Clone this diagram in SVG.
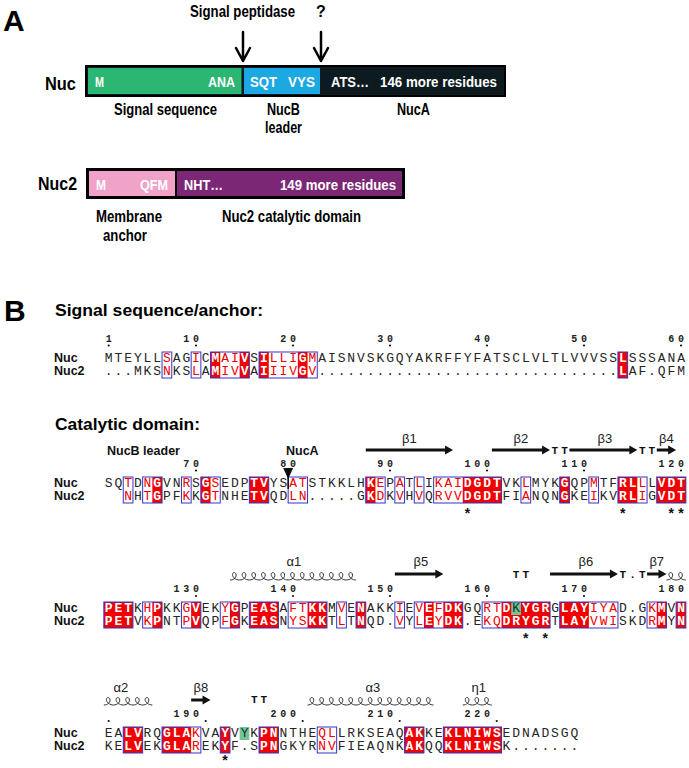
<svg xmlns="http://www.w3.org/2000/svg" width="689" height="768" viewBox="0 0 689 768">
<style>
.big{font-family:"Liberation Sans",Arial,sans-serif;font-weight:bold;font-size:30px;fill:#000}
.cond{font-family:"Liberation Sans Narrow","Liberation Sans",Arial,sans-serif;font-weight:bold;fill:#000}
.in{font-family:"Liberation Sans Narrow","Liberation Sans",Arial,sans-serif;font-weight:bold;font-size:14px;fill:#fff}
.head{font-family:"Liberation Sans",Arial,sans-serif;font-weight:bold;font-size:17px;fill:#000}
.lab{font-family:"Liberation Sans",Arial,sans-serif;font-weight:bold;font-size:12.5px;fill:#111}
.seq{font-family:"Liberation Mono","Courier New",monospace;font-size:13px;letter-spacing:1.9px;fill:#262626}
.r{fill:#f00000}
.w{fill:#fff;font-weight:bold}
.g{fill:#1d2d24}
.num{font-family:"Liberation Mono","Courier New",monospace;font-size:10px;font-weight:bold;letter-spacing:3.7px;fill:#222}
.tt{font-family:"Liberation Mono","Courier New",monospace;font-size:11px;font-weight:bold;letter-spacing:3.1px;fill:#111}
.ss{font-family:"Liberation Sans",Arial,sans-serif;font-size:13px;fill:#222;text-anchor:middle}
.star{font-family:"Liberation Sans",Arial,sans-serif;font-size:14px;font-weight:bold;fill:#111;text-anchor:middle}
.red{fill:#f00000}
.grn{fill:#74c49a}
.box{fill:none;stroke:#3434c8;stroke-width:1}
.hx{fill:none;stroke:#333;stroke-width:1}
.sa{fill:#111}
.ar{fill:none;stroke:#000;stroke-width:2.5;stroke-linecap:round;stroke-linejoin:round}
</style>

<!-- Panel A -->
<text class="big" x="3" y="31">A</text>
<text class="cond" x="190" y="17" font-size="16" textLength="105" lengthAdjust="spacingAndGlyphs">Signal peptidase</text>
<text class="cond" x="321" y="17" font-size="16" text-anchor="middle">?</text>

<g id="connectors">
<path class="ar" d="M243,32V61M236,48L243,61L250,48"/>
<path class="ar" d="M321,32V61M314,48L321,61L328,48"/>
</g>

<g id="nuc">
<text class="cond" x="45" y="90" font-size="18" textLength="31" lengthAdjust="spacingAndGlyphs">Nuc</text>
<rect x="86" y="66" width="419" height="30" fill="#0d1b20" stroke="#000" stroke-width="2"/>
</g>
<g id="signal-sequence">
<rect x="88" y="68" width="153.5" height="26" fill="#2bb673"/>
<text class="in" x="95" y="87" textLength="9" lengthAdjust="spacingAndGlyphs">M</text>
<text class="in" x="208" y="87" textLength="27" lengthAdjust="spacingAndGlyphs">ANA</text>
<text class="cond" x="114" y="115" font-size="17" textLength="103" lengthAdjust="spacingAndGlyphs">Signal sequence</text>
</g>
<g id="nucb-leader">
<rect x="244" y="68" width="76" height="26" fill="#1ca8e0"/>
<text class="in" x="250" y="87" textLength="27" lengthAdjust="spacingAndGlyphs">SQT</text>
<text class="in" x="288" y="87" textLength="27" lengthAdjust="spacingAndGlyphs">VYS</text>
<text class="cond" x="267" y="115" font-size="17" textLength="33" lengthAdjust="spacingAndGlyphs">NucB</text>
<text class="cond" x="265" y="133" font-size="17" textLength="37" lengthAdjust="spacingAndGlyphs">leader</text>
</g>
<g id="nuca">
<text class="in" x="331" y="87" textLength="38" lengthAdjust="spacingAndGlyphs">ATS…</text>
<text class="in" x="380" y="87" textLength="117" lengthAdjust="spacingAndGlyphs">146 more residues</text>
<text class="cond" x="397" y="115" font-size="17" textLength="33" lengthAdjust="spacingAndGlyphs">NucA</text>
</g>

<g id="nuc2">
<text class="cond" x="38" y="190" font-size="18" textLength="39" lengthAdjust="spacingAndGlyphs">Nuc2</text>
<rect x="87" y="169" width="317" height="29" fill="#000" stroke="#000" stroke-width="2"/>
</g>
<g id="membrane-anchor">
<rect x="89" y="171" width="86" height="25" fill="#f0a2c8"/>
<text class="in" x="96" y="190" textLength="10" lengthAdjust="spacingAndGlyphs">M</text>
<text class="in" x="140" y="190" textLength="28" lengthAdjust="spacingAndGlyphs">QFM</text>
<text class="cond" x="96" y="222" font-size="17" textLength="66" lengthAdjust="spacingAndGlyphs">Membrane</text>
<text class="cond" x="103" y="241" font-size="17" textLength="44" lengthAdjust="spacingAndGlyphs">anchor</text>
</g>
<g id="nuc2-catalytic">
<rect x="177" y="171" width="225" height="25" fill="#7b2776"/>
<text class="in" x="184" y="190" textLength="39" lengthAdjust="spacingAndGlyphs">NHT…</text>
<text class="in" x="280" y="190" textLength="116" lengthAdjust="spacingAndGlyphs">149 more residues</text>
<text class="cond" x="222" y="222" font-size="17" textLength="139" lengthAdjust="spacingAndGlyphs">Nuc2 catalytic domain</text>
</g>

<!-- Panel B -->
<text class="big" x="4" y="321">B</text>
<text class="head" x="55" y="316" textLength="208" lengthAdjust="spacingAndGlyphs">Signal sequence/anchor:</text>
<text class="head" x="55" y="430" textLength="145" lengthAdjust="spacingAndGlyphs">Catalytic domain:</text>

<g id="row-labels">
<text class="lab" x="54" y="362">Nuc</text>
<text class="lab" x="54" y="374.5">Nuc2</text>
<text class="lab" x="54" y="487">Nuc</text>
<text class="lab" x="54" y="499.5">Nuc2</text>
<text class="lab" x="54" y="612">Nuc</text>
<text class="lab" x="54" y="624.5">Nuc2</text>
<text class="lab" x="54" y="737">Nuc</text>
<text class="lab" x="54" y="749.5">Nuc2</text>
<text class="lab" x="107" y="455">NucB leader</text>
<text class="lab" x="286" y="455">NucA</text>
</g>

<g id="alignment" transform="translate(103.85,0)">
<!-- signal block -->
<g id="signal-align">
<rect class="red" x="106.7" y="352" width="9.7" height="26"/>
<rect class="red" x="135.8" y="352" width="9.7" height="26"/>
<rect class="red" x="155.2" y="352" width="9.7" height="26"/>
<rect class="red" x="194" y="352" width="9.7" height="26"/>
<rect class="red" x="514.1" y="352" width="9.7" height="26"/>
<rect class="box" x="58.2" y="352" width="9.7" height="26"/>
<rect class="box" x="87.3" y="352" width="9.7" height="26"/>
<rect class="box" x="106.7" y="352" width="38.8" height="26"/>
<rect class="box" x="155.2" y="352" width="58.2" height="26"/>
<rect class="box" x="514.1" y="352" width="9.7" height="26"/>
<text class="num" y="342"><tspan x="1.85">1</tspan><tspan x="79.45">10</tspan><tspan x="176.45">20</tspan><tspan x="273.45">30</tspan><tspan x="370.45">40</tspan><tspan x="467.45">50</tspan><tspan x="564.45">60</tspan></text>
<g class="sa"><circle cx="4.85" cy="345.5" r="1.1"/><circle cx="92.15" cy="345.5" r="1.1"/><circle cx="189.15" cy="345.5" r="1.1"/><circle cx="286.15" cy="345.5" r="1.1"/><circle cx="383.15" cy="345.5" r="1.1"/><circle cx="480.15" cy="345.5" r="1.1"/><circle cx="577.15" cy="345.5" r="1.1"/></g>
<text class="seq" x="0.95" y="362">MTEYLL<tspan class="r">S</tspan>AG<tspan class="r">I</tspan>C<tspan class="w">M</tspan><tspan class="r">AI</tspan><tspan class="w">V</tspan>S<tspan class="w">I</tspan><tspan class="r">LLI</tspan><tspan class="w">G</tspan><tspan class="r">M</tspan>AISNVSKGQYAKRFFYFATSCLVLTLVVVSS<tspan class="w">L</tspan>SSSANA</text>
<text class="seq" x="0.95" y="374.5">...MKS<tspan class="r">N</tspan>KS<tspan class="r">L</tspan>A<tspan class="w">M</tspan><tspan class="r">IV</tspan><tspan class="w">V</tspan>A<tspan class="w">I</tspan><tspan class="r">IIV</tspan><tspan class="w">G</tspan><tspan class="r">V</tspan>...............................<tspan class="w">L</tspan>AF.QFM</text>
</g>

<!-- row 1 -->
<g id="cat-row1">
<rect class="red" x="48.5" y="477" width="9.7" height="26"/>
<rect class="red" x="97" y="477" width="9.7" height="26"/>
<rect class="red" x="145.5" y="477" width="19.4" height="26"/>
<rect class="red" x="261.9" y="477" width="9.7" height="26"/>
<rect class="red" x="358.9" y="477" width="38.8" height="26"/>
<rect class="red" x="455.9" y="477" width="9.7" height="26"/>
<rect class="red" x="514.1" y="477" width="19.4" height="26"/>
<rect class="red" x="552.9" y="477" width="29.1" height="26"/>
<rect class="box" x="19.4" y="477" width="9.7" height="26"/>
<rect class="box" x="38.8" y="477" width="19.4" height="26"/>
<rect class="box" x="77.6" y="477" width="9.7" height="26"/>
<rect class="box" x="97" y="477" width="19.4" height="26"/>
<rect class="box" x="145.5" y="477" width="19.4" height="26"/>
<rect class="box" x="184.3" y="477" width="19.4" height="26"/>
<rect class="box" x="261.9" y="477" width="19.4" height="26"/>
<rect class="box" x="291" y="477" width="9.7" height="26"/>
<rect class="box" x="310.4" y="477" width="9.7" height="26"/>
<rect class="box" x="329.8" y="477" width="67.9" height="26"/>
<rect class="box" x="417.1" y="477" width="9.7" height="26"/>
<rect class="box" x="455.9" y="477" width="9.7" height="26"/>
<rect class="box" x="485" y="477" width="9.7" height="26"/>
<rect class="box" x="514.1" y="477" width="29.1" height="26"/>
<rect class="box" x="552.9" y="477" width="29.1" height="26"/>
<g class="sa">
<polygon points="261.9,448.5 341.2,448.5 341.2,445.5 349.2,450 341.2,454.5 341.2,451.5 261.9,451.5"/>
<polygon points="388,448.5 438.2,448.5 438.2,445.5 446.2,450 438.2,454.5 438.2,451.5 388,451.5"/>
<polygon points="465.6,448.5 525.5,448.5 525.5,445.5 533.5,450 525.5,454.5 525.5,451.5 465.6,451.5"/>
<polygon points="552.9,448.5 564.3,448.5 564.3,445.5 572.3,450 564.3,454.5 564.3,451.5 552.9,451.5"/>
</g>
<text class="ss" x="305.5" y="443">β1</text>
<text class="ss" x="417.1" y="443">β2</text>
<text class="ss" x="501" y="443">β3</text>
<text class="ss" x="562.6" y="443">β4</text>
<text class="tt" y="454"><tspan x="447.75">TT</tspan><tspan x="535.05">TT</tspan></text>
<text class="num" y="466.5"><tspan x="79.45">70</tspan><tspan x="176.45">80</tspan><tspan x="273.45">90</tspan><tspan x="360.75">100</tspan><tspan x="457.75">110</tspan><tspan x="554.75">120</tspan></text>
<g class="sa"><circle cx="92.15" cy="470.5" r="1.1"/><circle cx="286.15" cy="470.5" r="1.1"/><circle cx="383.15" cy="470.5" r="1.1"/><circle cx="480.15" cy="470.5" r="1.1"/><circle cx="577.15" cy="470.5" r="1.1"/></g>
<polygon class="sa" points="179.3,468 189.3,468 184.3,479"/>
<line x1="184.3" y1="468" x2="184.3" y2="489" stroke="#000" stroke-width="1.3"/>
<text class="seq" x="0.95" y="487">SQ<tspan class="r">T</tspan>D<tspan class="r">N</tspan><tspan class="w">G</tspan>VN<tspan class="r">R</tspan>S<tspan class="w">G</tspan><tspan class="r">S</tspan>EDP<tspan class="w">TV</tspan>YS<tspan class="r">AT</tspan>STKKLH<tspan class="w">K</tspan><tspan class="r">E</tspan>P<tspan class="r">A</tspan>T<tspan class="r">L</tspan>I<tspan class="r">KAI</tspan><tspan class="w">DGDT</tspan>VK<tspan class="r">L</tspan>MYK<tspan class="w">G</tspan>QP<tspan class="r">M</tspan>TF<tspan class="w">RL</tspan><tspan class="r">L</tspan>L<tspan class="w">VDT</tspan></text>
<text class="seq" x="20.35" y="499.5"><tspan class="r">N</tspan>H<tspan class="r">T</tspan><tspan class="w">G</tspan>PF<tspan class="r">K</tspan>K<tspan class="w">G</tspan><tspan class="r">T</tspan>NHE<tspan class="w">TV</tspan>QD<tspan class="r">LN</tspan>.....G<tspan class="w">K</tspan><tspan class="r">D</tspan>K<tspan class="r">V</tspan>H<tspan class="r">V</tspan>Q<tspan class="r">RVV</tspan><tspan class="w">DGDT</tspan>FI<tspan class="r">A</tspan>NQN<tspan class="w">G</tspan>KE<tspan class="r">I</tspan>KV<tspan class="w">RL</tspan><tspan class="r">I</tspan>G<tspan class="w">VDT</tspan></text>
<text class="star" y="518"><tspan x="363.75">*</tspan><tspan x="518.95">*</tspan><tspan x="567.45">*</tspan><tspan x="577.15">*</tspan></text>
</g>

<!-- row 2 -->
<g id="cat-row2">
<rect class="red" x="0" y="602" width="29.1" height="26"/>
<rect class="red" x="48.5" y="602" width="9.7" height="26"/>
<rect class="red" x="87.3" y="602" width="9.7" height="26"/>
<rect class="red" x="126.1" y="602" width="9.7" height="26"/>
<rect class="red" x="145.5" y="602" width="29.1" height="26"/>
<rect class="red" x="203.7" y="602" width="19.4" height="26"/>
<rect class="red" x="252.2" y="602" width="9.7" height="26"/>
<rect class="red" x="320.1" y="602" width="9.7" height="26"/>
<rect class="red" x="339.5" y="602" width="19.4" height="26"/>
<rect class="red" x="397.7" y="602" width="48.5" height="26"/>
<rect class="red" x="455.9" y="602" width="29.1" height="26"/>
<rect class="red" x="552.9" y="602" width="9.7" height="26"/>
<rect class="red" x="572.3" y="602" width="9.7" height="26"/>
<rect class="grn" x="407.4" y="602" width="9.7" height="13"/>
<rect class="box" x="0" y="602" width="29.1" height="26"/>
<rect class="box" x="38.8" y="602" width="19.4" height="26"/>
<rect class="box" x="77.6" y="602" width="19.4" height="26"/>
<rect class="box" x="116.4" y="602" width="19.4" height="26"/>
<rect class="box" x="145.5" y="602" width="29.1" height="26"/>
<rect class="box" x="184.3" y="602" width="38.8" height="26"/>
<rect class="box" x="232.8" y="602" width="9.7" height="26"/>
<rect class="box" x="252.2" y="602" width="9.7" height="26"/>
<rect class="box" x="291" y="602" width="9.7" height="26"/>
<rect class="box" x="310.4" y="602" width="48.5" height="26"/>
<rect class="box" x="378.3" y="602" width="67.9" height="26"/>
<rect class="box" x="455.9" y="602" width="58.2" height="26"/>
<rect class="box" x="543.2" y="602" width="19.4" height="26"/>
<rect class="box" x="572.3" y="602" width="9.7" height="26"/>
<path class="hx" d="M126.1,580c4,0 7,-3 6,-6c-0.5,-2 -3.5,-2 -3.5,0.5c0,3 3.5,5.5 7.2,5.5c4,0 7,-3 6,-6c-0.5,-2 -3.5,-2 -3.5,0.5c0,3 3.5,5.5 7.2,5.5c4,0 7,-3 6,-6c-0.5,-2 -3.5,-2 -3.5,0.5c0,3 3.5,5.5 7.2,5.5c4,0 7,-3 6,-6c-0.5,-2 -3.5,-2 -3.5,0.5c0,3 3.5,5.5 7.2,5.5c4,0 7,-3 6,-6c-0.5,-2 -3.5,-2 -3.5,0.5c0,3 3.5,5.5 7.2,5.5c4,0 7,-3 6,-6c-0.5,-2 -3.5,-2 -3.5,0.5c0,3 3.5,5.5 7.2,5.5c4,0 7,-3 6,-6c-0.5,-2 -3.5,-2 -3.5,0.5c0,3 3.5,5.5 7.2,5.5c4,0 7,-3 6,-6c-0.5,-2 -3.5,-2 -3.5,0.5c0,3 3.5,5.5 7.2,5.5c4,0 7,-3 6,-6c-0.5,-2 -3.5,-2 -3.5,0.5c0,3 3.5,5.5 7.2,5.5c4,0 7,-3 6,-6c-0.5,-2 -3.5,-2 -3.5,0.5c0,3 3.5,5.5 7.2,5.5c4,0 7,-3 6,-6c-0.5,-2 -3.5,-2 -3.5,0.5c0,3 3.5,5.5 7.2,5.5c4,0 7,-3 6,-6c-0.5,-2 -3.5,-2 -3.5,0.5c0,3 3.5,5.5 7.2,5.5c4,0 7,-3 6,-6c-0.5,-2 -3.5,-2 -3.5,0.5c0,3 3.5,5.5 7.2,5.5"/>
<path class="hx" d="M562.6,580c4,0 7,-3 6,-6c-0.5,-2 -3.5,-2 -3.5,0.5c0,3 3.5,5.5 7.2,5.5c4,0 7,-3 6,-6c-0.5,-2 -3.5,-2 -3.5,0.5c0,3 3.5,5.5 7.2,5.5"/>
<g class="sa">
<polygon points="291,572.5 331.5,572.5 331.5,569.5 339.5,574 331.5,578.5 331.5,575.5 291,575.5"/>
<polygon points="446.2,572.5 506.1,572.5 506.1,569.5 514.1,574 506.1,578.5 506.1,575.5 446.2,575.5"/>
<polygon points="543.2,572.5 554.6,572.5 554.6,569.5 562.6,574 554.6,578.5 554.6,575.5 543.2,575.5"/>
</g>
<text class="ss" x="190" y="566">α1</text>
<text class="ss" x="317" y="566">β5</text>
<text class="ss" x="482" y="566">β6</text>
<text class="ss" x="552.9" y="566">β7</text>
<text class="tt" y="578"><tspan x="408.95">TT</tspan><tspan x="515.65">T.T</tspan></text>
<text class="num" y="592"><tspan x="69.75">130</tspan><tspan x="166.75">140</tspan><tspan x="263.75">150</tspan><tspan x="360.75">160</tspan><tspan x="457.75">170</tspan><tspan x="554.75">180</tspan></text>
<g class="sa"><circle cx="92.15" cy="596" r="1.1"/><circle cx="189.15" cy="596" r="1.1"/><circle cx="286.15" cy="596" r="1.1"/><circle cx="383.15" cy="596" r="1.1"/><circle cx="480.15" cy="596" r="1.1"/></g>
<text class="seq" x="0.95" y="612"><tspan class="w">PET</tspan>K<tspan class="r">H</tspan><tspan class="w">P</tspan>KK<tspan class="r">G</tspan><tspan class="w">V</tspan>EK<tspan class="r">Y</tspan><tspan class="w">G</tspan>P<tspan class="w">EAS</tspan>A<tspan class="r">FT</tspan><tspan class="w">KK</tspan>M<tspan class="r">V</tspan>E<tspan class="w">N</tspan>AKK<tspan class="r">I</tspan>E<tspan class="r">V</tspan><tspan class="w">E</tspan><tspan class="r">F</tspan><tspan class="w">DK</tspan>GQ<tspan class="r">RT</tspan><tspan class="w">D</tspan><tspan class="g">K</tspan><tspan class="w">YGR</tspan>G<tspan class="w">LAY</tspan><tspan class="r">IYA</tspan>D.G<tspan class="r">K</tspan><tspan class="w">M</tspan>V<tspan class="w">N</tspan></text>
<text class="seq" x="0.95" y="624.5"><tspan class="w">PET</tspan>V<tspan class="r">K</tspan><tspan class="w">P</tspan>NT<tspan class="r">P</tspan><tspan class="w">V</tspan>QP<tspan class="r">F</tspan><tspan class="w">G</tspan>K<tspan class="w">EAS</tspan>N<tspan class="r">YS</tspan><tspan class="w">KK</tspan>T<tspan class="r">L</tspan>T<tspan class="w">N</tspan>QD.<tspan class="r">V</tspan>Y<tspan class="r">L</tspan><tspan class="w">E</tspan><tspan class="r">Y</tspan><tspan class="w">DK</tspan>.E<tspan class="r">KQ</tspan><tspan class="w">DRYGR</tspan>T<tspan class="w">LAY</tspan><tspan class="r">VWI</tspan>SKD<tspan class="r">R</tspan><tspan class="w">M</tspan>Y<tspan class="w">N</tspan></text>
<text class="star" y="643"><tspan x="421.95">*</tspan><tspan x="441.35">*</tspan></text>
</g>

<!-- row 3 -->
<g id="cat-row3">
<rect class="red" x="19.4" y="727" width="19.4" height="26"/>
<rect class="red" x="58.2" y="727" width="29.1" height="26"/>
<rect class="red" x="116.4" y="727" width="9.7" height="26"/>
<rect class="red" x="155.2" y="727" width="19.4" height="26"/>
<rect class="red" x="300.7" y="727" width="19.4" height="26"/>
<rect class="red" x="339.5" y="727" width="58.2" height="26"/>
<rect class="grn" x="135.8" y="727" width="9.7" height="13"/>
<rect class="box" x="19.4" y="727" width="19.4" height="26"/>
<rect class="box" x="58.2" y="727" width="38.8" height="26"/>
<rect class="box" x="116.4" y="727" width="9.7" height="26"/>
<rect class="box" x="155.2" y="727" width="19.4" height="26"/>
<rect class="box" x="213.4" y="727" width="19.4" height="26"/>
<rect class="box" x="300.7" y="727" width="19.4" height="26"/>
<rect class="box" x="339.5" y="727" width="58.2" height="26"/>
<path class="hx" d="M0,705c4,0 7,-3 6,-6c-0.5,-2 -3.5,-2 -3.5,0.5c0,3 3.5,5.5 7.2,5.5c4,0 7,-3 6,-6c-0.5,-2 -3.5,-2 -3.5,0.5c0,3 3.5,5.5 7.2,5.5c4,0 7,-3 6,-6c-0.5,-2 -3.5,-2 -3.5,0.5c0,3 3.5,5.5 7.2,5.5c4,0 7,-3 6,-6c-0.5,-2 -3.5,-2 -3.5,0.5c0,3 3.5,5.5 7.2,5.5c4,0 7,-3 6,-6c-0.5,-2 -3.5,-2 -3.5,0.5c0,3 3.5,5.5 7.2,5.5"/>
<path class="hx" d="M203.7,705c4,0 7,-3 6,-6c-0.5,-2 -3.5,-2 -3.5,0.5c0,3 3.5,5.5 7.2,5.5c4,0 7,-3 6,-6c-0.5,-2 -3.5,-2 -3.5,0.5c0,3 3.5,5.5 7.2,5.5c4,0 7,-3 6,-6c-0.5,-2 -3.5,-2 -3.5,0.5c0,3 3.5,5.5 7.2,5.5c4,0 7,-3 6,-6c-0.5,-2 -3.5,-2 -3.5,0.5c0,3 3.5,5.5 7.2,5.5c4,0 7,-3 6,-6c-0.5,-2 -3.5,-2 -3.5,0.5c0,3 3.5,5.5 7.2,5.5c4,0 7,-3 6,-6c-0.5,-2 -3.5,-2 -3.5,0.5c0,3 3.5,5.5 7.2,5.5c4,0 7,-3 6,-6c-0.5,-2 -3.5,-2 -3.5,0.5c0,3 3.5,5.5 7.2,5.5c4,0 7,-3 6,-6c-0.5,-2 -3.5,-2 -3.5,0.5c0,3 3.5,5.5 7.2,5.5c4,0 7,-3 6,-6c-0.5,-2 -3.5,-2 -3.5,0.5c0,3 3.5,5.5 7.2,5.5c4,0 7,-3 6,-6c-0.5,-2 -3.5,-2 -3.5,0.5c0,3 3.5,5.5 7.2,5.5c4,0 7,-3 6,-6c-0.5,-2 -3.5,-2 -3.5,0.5c0,3 3.5,5.5 7.2,5.5c4,0 7,-3 6,-6c-0.5,-2 -3.5,-2 -3.5,0.5c0,3 3.5,5.5 7.2,5.5c4,0 7,-3 6,-6c-0.5,-2 -3.5,-2 -3.5,0.5c0,3 3.5,5.5 7.2,5.5"/>
<path class="hx" d="M358.9,705c4,0 7,-3 6,-6c-0.5,-2 -3.5,-2 -3.5,0.5c0,3 3.5,5.5 7.2,5.5c4,0 7,-3 6,-6c-0.5,-2 -3.5,-2 -3.5,0.5c0,3 3.5,5.5 7.2,5.5c4,0 7,-3 6,-6c-0.5,-2 -3.5,-2 -3.5,0.5c0,3 3.5,5.5 7.2,5.5"/>
<polygon class="sa" points="87.3,698.5 98.7,698.5 98.7,695.5 106.7,700 98.7,704.5 98.7,701.5 87.3,701.5"/>
<text class="ss" x="17" y="692">α2</text>
<text class="ss" x="97" y="692">β8</text>
<text class="ss" x="269" y="692">α3</text>
<text class="ss" x="375" y="692">η1</text>
<text class="tt" x="147.05" y="703">TT</text>
<text class="num" y="717"><tspan x="69.75">190</tspan><tspan x="166.75">200</tspan><tspan x="263.75">210</tspan><tspan x="360.75">220</tspan></text>
<g class="sa"><circle cx="4.85" cy="721" r="1.1"/><circle cx="101.85" cy="721" r="1.1"/><circle cx="198.85" cy="721" r="1.1"/><circle cx="295.85" cy="721" r="1.1"/><circle cx="392.85" cy="721" r="1.1"/></g>
<text class="seq" x="0.95" y="737">EA<tspan class="w">LV</tspan>RQ<tspan class="w">GLA</tspan><tspan class="r">K</tspan>VA<tspan class="w">Y</tspan>V<tspan class="g">Y</tspan>K<tspan class="w">PN</tspan>NTHE<tspan class="r">QL</tspan>LRKSEAQ<tspan class="w">AK</tspan>KE<tspan class="w">KLNIWS</tspan>EDNADSGQ</text>
<text class="seq" x="0.95" y="749.5">KE<tspan class="w">LV</tspan>EK<tspan class="w">GLA</tspan><tspan class="r">R</tspan>EK<tspan class="w">Y</tspan>F.S<tspan class="w">PN</tspan>GKYR<tspan class="r">NV</tspan>FIEAQNK<tspan class="w">AK</tspan>QQ<tspan class="w">KLNIWS</tspan>K.......</text>
<text class="star" x="121.25" y="765">*</text>
</g>
</g>
</svg>
